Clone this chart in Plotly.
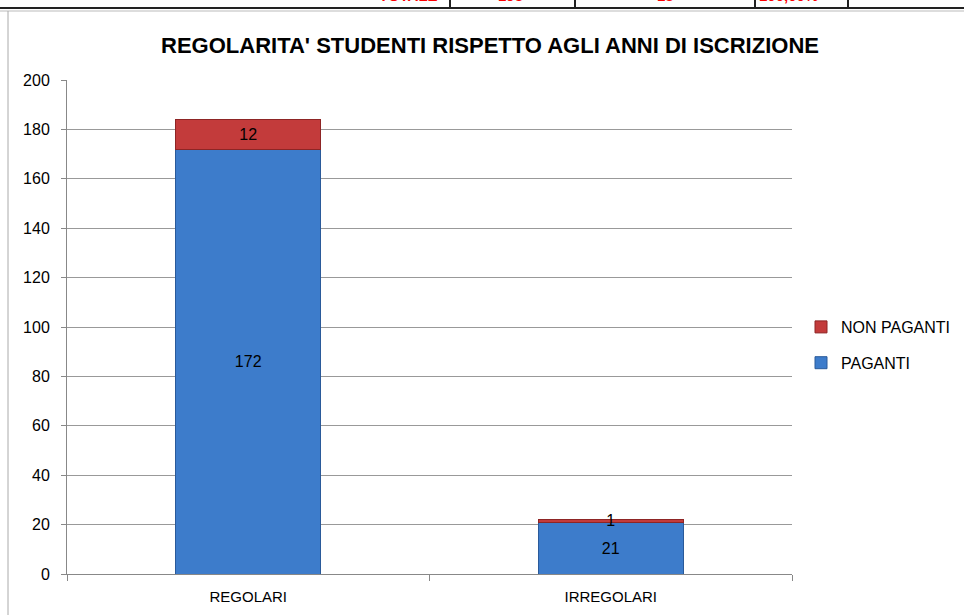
import plotly.graph_objects as go

categories = ["REGOLARI", "IRREGOLARI"]
paganti = [172, 21]
non_paganti = [12, 1]
y_ticks = list(range(0, 201, 20))
title_text = "REGOLARITA' STUDENTI RISPETTO AGLI ANNI DI ISCRIZIONE"
table_texts = ["TOTALE", "193", "13", "100,00%"]

FONT = "Liberation Sans"
W, H = 964, 615
L, R, T, B = 67, 172, 80, 41
PW, PH = W - L - R, H - T - B

def px(x):
    return (x - L) / PW

def py(y):
    return (H - B - y) / PH

fig = go.Figure()
fig.add_trace(go.Bar(
    x=categories, y=paganti, name="PAGANTI", legendgroup="p", legendrank=2,
    marker=dict(color="#3D7CCB", line=dict(color="#2A5A9A", width=1)),
    text=[str(v) for v in paganti], textposition="inside", textangle=0,
    insidetextanchor="middle", textfont=dict(color="black", size=16, family=FONT),
))
fig.add_trace(go.Bar(
    x=categories, y=non_paganti, name="NON PAGANTI", legendgroup="n", legendrank=1,
    marker=dict(color="#C33B3B", line=dict(color="#8E2525", width=1)),
    text=[str(v) for v in non_paganti], textposition="inside", textangle=0,
    insidetextanchor="middle", textfont=dict(color="black", size=16, family=FONT),
))

shapes = []
shapes.append(dict(type="line", xref="paper", yref="paper", x0=px(0), x1=px(W), y0=py(8), y1=py(8),
                   line=dict(color="#222222", width=2)))
shapes.append(dict(type="line", xref="paper", yref="paper", x0=px(0), x1=px(W), y0=py(11), y1=py(11),
                   line=dict(color="#BBBBBB", width=1)))
for xv in [450, 575, 755, 848]:
    shapes.append(dict(type="line", xref="paper", yref="paper", x0=px(xv), x1=px(xv), y0=py(0), y1=py(8),
                       line=dict(color="#222222", width=2)))
shapes.append(dict(type="line", xref="paper", yref="paper", x0=px(8), x1=px(8), y0=py(11), y1=py(H),
                   line=dict(color="#AAAAAA", width=1)))

annotations = []
for xv, t in zip([408, 510, 665, 788], table_texts):
    annotations.append(dict(xref="paper", yref="paper", x=px(xv), y=py(6), text=f"<b>{t}</b>",
                            showarrow=False, xanchor="center", yanchor="bottom",
                            font=dict(color="red", size=15, family=FONT)))

fig.update_layout(
    width=W, height=H,
    margin=dict(l=L, r=R, t=T, b=B, autoexpand=False),
    paper_bgcolor="white", plot_bgcolor="white",
    barmode="stack", bargap=0.6,
    uniformtext=dict(minsize=16, mode="show"),
    title=dict(text=f"<b>{title_text}</b>", x=490 / W, xanchor="center", y=1 - 45 / H, yanchor="middle",
               font=dict(size=22, family=FONT, color="black")),
    font=dict(family=FONT, size=15, color="black"),
    legend=dict(x=px(801), y=py(310), xanchor="left", yanchor="top", traceorder="grouped",
                tracegroupgap=12, font=dict(size=16, family=FONT, color="black"), itemwidth=30),
    xaxis=dict(showline=True, linecolor="#888888", linewidth=1, ticks="outside", tickson="boundaries",
               ticklen=6, tickcolor="#888888", ticklabelstandoff=9, tickfont=dict(size=15, family=FONT)),
    yaxis=dict(range=[0, 200], tickvals=y_ticks, showline=True, linecolor="#888888", linewidth=1,
               ticks="outside", ticklen=5, tickcolor="#888888", ticklabelstandoff=8, showgrid=True,
               gridcolor="#999999", gridwidth=1, zeroline=False, tickfont=dict(size=16, family=FONT)),
    shapes=shapes, annotations=annotations,
)

fig.write_html("out.html", config={"displayModeBar": False},
               post_script="document.body.style.margin='0';")
